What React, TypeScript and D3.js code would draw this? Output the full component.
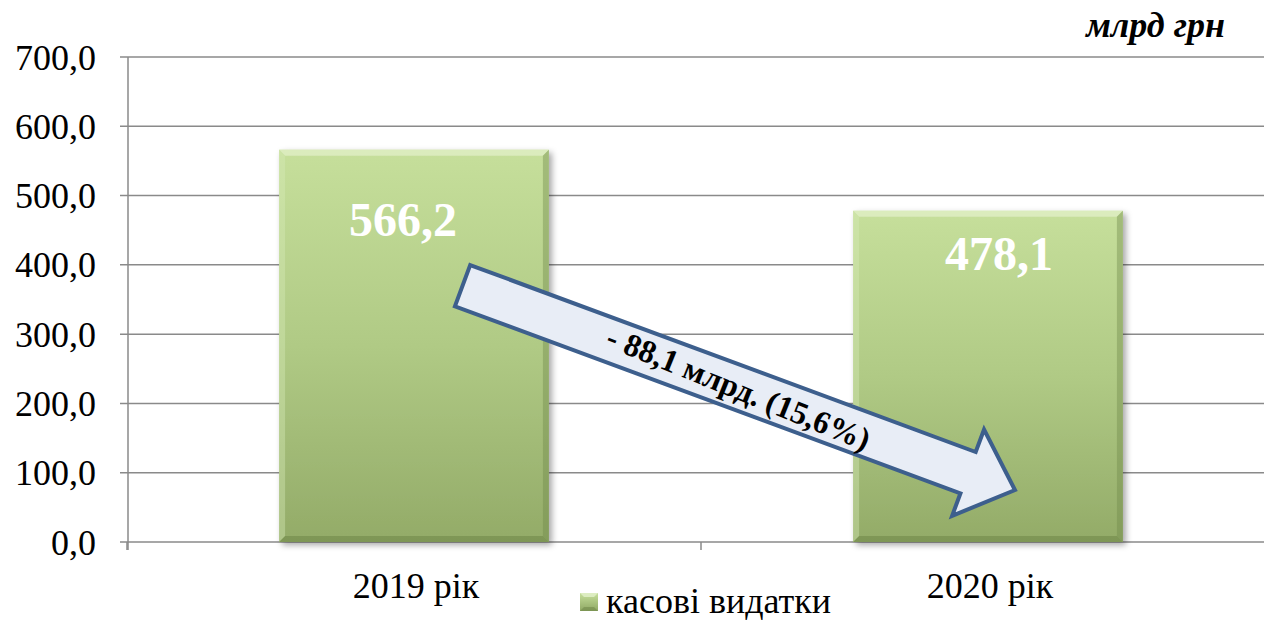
import React from "react";
import * as d3 from "d3";

const categories = ["2019 рік", "2020 рік"];
const values = [566.2, 478.1];
const yTicks = [0, 100, 200, 300, 400, 500, 600, 700];
const seriesName = "касові видатки";
const unitLabel = "млрд грн";
const changeLabel = "- 88,1 млрд. (15,6%)";

const W = 1264;
const H = 620;
const SERIF = "'Liberation Serif', 'Times New Roman', serif";

export default function App() {
  const x = d3.scaleBand<string>().domain(categories).range([127, 1275]).paddingInner(0.53).paddingOuter(0.265);
  const y = d3.scaleLinear().domain([0, 700]).range([542, 57]);
  const fmt = (v: number) => d3.format(".1f")(v).replace(".", ",");
  const bw = x.bandwidth();
  const step = x.step();
  const b = 6;

  // arrow geometry derived from scales
  const tail = [x(categories[0])! + bw * 0.68, y(370)];
  const tip = [x(categories[1])! + bw * 0.6, y(75)];
  const dx = tip[0] - tail[0];
  const dy = tip[1] - tail[1];
  const len = Math.hypot(dx, dy);
  const ang = (Math.atan2(dy, dx) * 180) / Math.PI;
  const hw = 22;
  const headW = 46;
  const headL = 50;
  const arrowPts = [
    [0, -hw],
    [len - headL, -hw],
    [len - headL, -headW],
    [len, 0],
    [len - headL, headW],
    [len - headL, hw],
    [0, hw],
  ];

  const labelOffsets = [[-11, 86], [11, 59]];
  const tcx = tail[0] + dx * 0.5;
  const tcy = tail[1] + dy * 0.5;

  return (
    <svg width={W} height={H} style={{ position: "absolute", left: 0, top: 0, background: "#fff" }}>
      <defs>
        <linearGradient id="barGrad" x1="0" y1="0" x2="0" y2="1">
          <stop offset="0" stopColor="#c6df9b" />
          <stop offset="0.5" stopColor="#b0ca85" />
          <stop offset="1" stopColor="#93ab68" />
        </linearGradient>
        <linearGradient id="legGrad" x1="0" y1="0" x2="0" y2="1">
          <stop offset="0" stopColor="#c6df9b" />
          <stop offset="1" stopColor="#8fa864" />
        </linearGradient>
        <filter id="shadow" x="-10%" y="-10%" width="130%" height="130%">
          <feDropShadow dx="3" dy="3" stdDeviation="3" floodColor="#000" floodOpacity="0.35" />
        </filter>
      </defs>

      {/* gridlines */}
      {yTicks.map((t) => (
        <g key={t}>
          <line x1={120} x2={W + 20} y1={y(t)} y2={y(t)} stroke="#8a8a8a" strokeWidth={1.5} />
          <text
            x={96}
            y={y(t)}
            dy="0.35em"
            textAnchor="end"
            fontFamily={SERIF}
            fontSize={36}
            fill="#000"
          >
            {fmt(t)}
          </text>
        </g>
      ))}
      {/* y axis */}
      <line x1={128} x2={128} y1={y(700)} y2={y(0) + 8} stroke="#8a8a8a" strokeWidth={1.5} />
      {/* x ticks */}
      {[0, 1, 2].map((i) => (
        <line key={i} x1={127 + i * step} x2={127 + i * step} y1={y(0)} y2={y(0) + 8} stroke="#8a8a8a" strokeWidth={1.5} />
      ))}

      {/* bars */}
      {categories.map((c, i) => {
        const bx = x(c)!;
        const by = y(values[i]);
        const bh = y(0) - by;
        return (
          <g key={c}>
            <rect x={bx} y={by} width={bw} height={bh} fill="url(#barGrad)" filter="url(#shadow)" />
            <polygon points={`${bx},${by} ${bx + bw},${by} ${bx + bw - b},${by + b} ${bx + b},${by + b}`} fill="#e4f1cc" opacity={0.7} />
            <polygon points={`${bx},${by} ${bx + b},${by + b} ${bx + b},${by + bh - b} ${bx},${by + bh}`} fill="#d8eab8" opacity={0.4} />
            <polygon points={`${bx + bw},${by} ${bx + bw},${by + bh} ${bx + bw - b},${by + bh - b} ${bx + bw - b},${by + b}`} fill="#6f8748" opacity={0.4} />
            <polygon points={`${bx},${by + bh} ${bx + bw},${by + bh} ${bx + bw - b},${by + bh - b} ${bx + b},${by + bh - b}`} fill="#6a8244" opacity={0.5} />
            <text
              x={bx + bw / 2 + labelOffsets[i][0]}
              y={by + labelOffsets[i][1]}
              textAnchor="middle"
              fontFamily={SERIF}
              fontWeight="bold"
              fontSize={48}
              fill="#fff"
            >
              {fmt(values[i])}
            </text>
            <text
              x={bx + bw / 2 + 2}
              y={598}
              textAnchor="middle"
              fontFamily={SERIF}
              fontSize={36}
              fill="#000"
            >
              {c}
            </text>
          </g>
        );
      })}

      {/* arrow */}
      <g transform={`translate(${tail[0]},${tail[1]}) rotate(${ang})`}>
        <polygon
          points={arrowPts.map((p) => p.join(",")).join(" ")}
          fill="#e8edf6"
          stroke="#3d5f8d"
          strokeWidth={4}
          strokeLinejoin="miter"
        />
      </g>
      <text
        x={tcx}
        y={tcy}
        dy="0.35em"
        textAnchor="middle"
        fontFamily={SERIF}
        fontWeight="bold"
        fontSize={32}
        fill="#000"
        transform={`rotate(22, ${tcx}, ${tcy})`}
      >
        {changeLabel}
      </text>

      {/* unit */}
      <text x={1225} y={37} textAnchor="end" fontFamily={SERIF} fontWeight="bold" fontStyle="italic" fontSize={36} fill="#000">
        {unitLabel}
      </text>

      {/* legend */}
      <rect x={580} y={593} width={18} height={18} fill="url(#legGrad)" />
      <polygon points="580,593 598,593 594,597 584,597" fill="#e4f1cc" opacity={0.8} />
      <polygon points="580,611 598,611 594,607 584,607" fill="#6a8244" opacity={0.5} />
      <text x={606} y={613} fontFamily={SERIF} fontSize={36} fill="#000">
        {seriesName}
      </text>
    </svg>
  );
}
